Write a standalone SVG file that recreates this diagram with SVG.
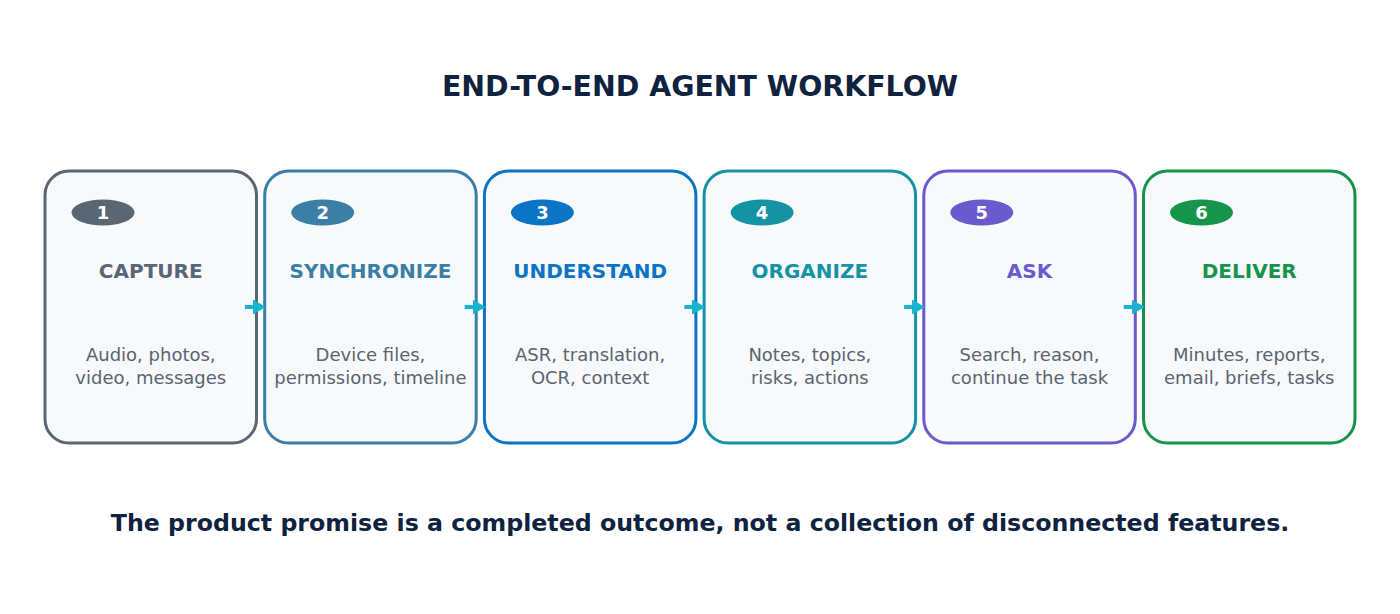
<svg xmlns="http://www.w3.org/2000/svg" width="1400" height="614" viewBox="0 0 1400 614">
<style>
.bg{fill:#ffffff}
.card{fill:#f7f9fb;stroke-width:3}
.title{font-family:"DejaVu Sans",sans-serif;font-weight:bold;fill:#0f2340;text-anchor:middle}
.num{font-family:"DejaVu Sans",sans-serif;font-weight:bold;font-size:18px;fill:#ffffff;text-anchor:middle}
.head{font-family:"DejaVu Sans",sans-serif;font-weight:bold;font-size:20px;text-anchor:middle}
.desc{font-family:"DejaVu Sans",sans-serif;font-size:18px;fill:#5b6470;text-anchor:middle}
.conn{stroke:#17b3d1;stroke-width:4;fill:none}
</style>
<defs>
<marker id="ah" viewBox="0 0 12 14" refX="11" refY="7" markerWidth="12" markerHeight="14" orient="auto" markerUnits="userSpaceOnUse">
<path d="M0,0 L12,7 L0,14 z" fill="#17b3d1" stroke="#17b3d1" stroke-width="1" stroke-linejoin="round"/>
</marker>
</defs>
<rect class="bg" x="0" y="0" width="1400" height="614"/>
<text class="title" x="700" y="96" font-size="28.4">END-TO-END AGENT WORKFLOW</text>

<g id="node1">
<rect class="card" x="45" y="171" width="211.5" height="272" rx="24" stroke="#5b6675"/>
<ellipse cx="103" cy="212.5" rx="31.5" ry="13" fill="#5b6675"/>
<text class="num" x="103" y="219">1</text>
<text class="head" x="150.75" y="278" fill="#5b6675">CAPTURE</text>
<text class="desc" x="150.75" y="361">Audio, photos,</text>
<text class="desc" x="150.75" y="384">video, messages</text>
</g>
<g id="node2">
<rect class="card" x="264.7" y="171" width="211.5" height="272" rx="24" stroke="#3b7ea6"/>
<ellipse cx="322.7" cy="212.5" rx="31.5" ry="13" fill="#3b7ea6"/>
<text class="num" x="322.7" y="219">2</text>
<text class="head" x="370.45" y="278" fill="#3b7ea6">SYNCHRONIZE</text>
<text class="desc" x="370.45" y="361">Device files,</text>
<text class="desc" x="370.45" y="384">permissions, timeline</text>
</g>
<g id="node3">
<rect class="card" x="484.4" y="171" width="211.5" height="272" rx="24" stroke="#0b74c4"/>
<ellipse cx="542.4" cy="212.5" rx="31.5" ry="13" fill="#0b74c4"/>
<text class="num" x="542.4" y="219">3</text>
<text class="head" x="590.15" y="278" fill="#0b74c4">UNDERSTAND</text>
<text class="desc" x="590.15" y="361">ASR, translation,</text>
<text class="desc" x="590.15" y="384">OCR, context</text>
</g>
<g id="node4">
<rect class="card" x="704.1" y="171" width="211.5" height="272" rx="24" stroke="#1493a5"/>
<ellipse cx="762.1" cy="212.5" rx="31.5" ry="13" fill="#1493a5"/>
<text class="num" x="762.1" y="219">4</text>
<text class="head" x="809.85" y="278" fill="#1493a5">ORGANIZE</text>
<text class="desc" x="809.85" y="361">Notes, topics,</text>
<text class="desc" x="809.85" y="384">risks, actions</text>
</g>
<g id="node5">
<rect class="card" x="923.8" y="171" width="211.5" height="272" rx="24" stroke="#6a5acd"/>
<ellipse cx="981.8" cy="212.5" rx="31.5" ry="13" fill="#6a5acd"/>
<text class="num" x="981.8" y="219">5</text>
<text class="head" x="1029.55" y="278" fill="#6a5acd">ASK</text>
<text class="desc" x="1029.55" y="361">Search, reason,</text>
<text class="desc" x="1029.55" y="384">continue the task</text>
</g>
<g id="node6">
<rect class="card" x="1143.5" y="171" width="211.5" height="272" rx="24" stroke="#16944c"/>
<ellipse cx="1201.5" cy="212.5" rx="31.5" ry="13" fill="#16944c"/>
<text class="num" x="1201.5" y="219">6</text>
<text class="head" x="1249.25" y="278" fill="#16944c">DELIVER</text>
<text class="desc" x="1249.25" y="361">Minutes, reports,</text>
<text class="desc" x="1249.25" y="384">email, briefs, tasks</text>
</g>

<g id="connectors">
<line class="conn" x1="245" y1="307" x2="264" y2="307" marker-end="url(#ah)"/>
<line class="conn" x1="464.7" y1="307" x2="483.7" y2="307" marker-end="url(#ah)"/>
<line class="conn" x1="684.4" y1="307" x2="703.4" y2="307" marker-end="url(#ah)"/>
<line class="conn" x1="904.1" y1="307" x2="923.1" y2="307" marker-end="url(#ah)"/>
<line class="conn" x1="1123.8" y1="307" x2="1142.8" y2="307" marker-end="url(#ah)"/>
</g>

<text class="title" x="700" y="531" font-size="23.7">The product promise is a completed outcome, not a collection of disconnected features.</text>
</svg>
